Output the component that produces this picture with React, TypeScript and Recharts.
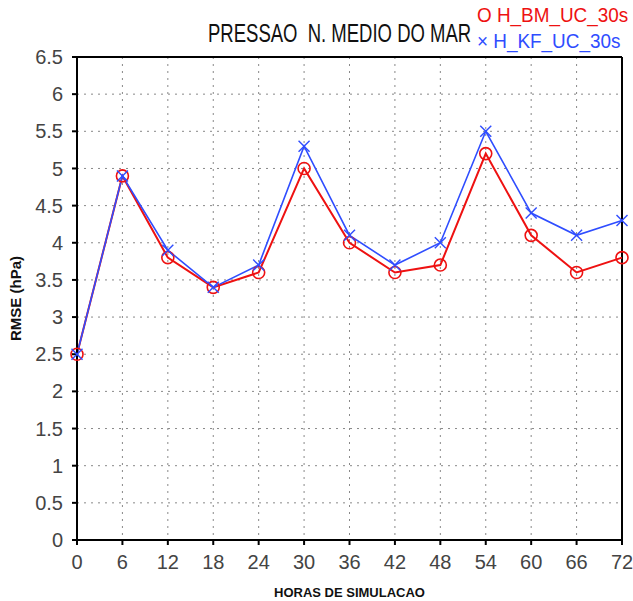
import { LineChart, Line, XAxis, YAxis, CartesianGrid, ReferenceLine, Label } from "recharts"

// horas de simulacao e RMSE de cada rodada
const HORAS = [0, 6, 12, 18, 24, 30, 36, 42, 48, 54, 60, 66, 72]
const BM_UC_30S = [2.5, 4.9, 3.8, 3.4, 3.6, 5.0, 4.0, 3.6, 3.7, 5.2, 4.1, 3.6, 3.8]
const KF_UC_30S = [2.5, 4.9, 3.9, 3.4, 3.7, 5.3, 4.1, 3.7, 4.0, 5.5, 4.4, 4.1, 4.3]
const Y_TICKS = [0, 0.5, 1, 1.5, 2, 2.5, 3, 3.5, 4, 4.5, 5, 5.5, 6, 6.5]
const SERIES_NAMES = ["H_BM_UC_30s", "H_KF_UC_30s"]
const TITLE = "PRESSAO  N. MEDIO DO MAR"

const RED = "#ee1111"
const BLUE = "#2f4dff"
const FONT = "'Liberation Sans', Arial, sans-serif"

const data = HORAS.map((h, i) => ({ h, bm: BM_UC_30S[i], kf: KF_UC_30S[i] }))

const CircleDot = (props: any) => {
  const { cx, cy } = props
  if (cx == null || cy == null) return null
  return <circle cx={cx} cy={cy} r={6} fill="none" stroke={RED} strokeWidth={1.6} />
}

const CrossDot = (props: any) => {
  const { cx, cy } = props
  if (cx == null || cy == null) return null
  const s = 5.5
  return (
    <g stroke={BLUE} strokeWidth={1.4}>
      <line x1={cx - s} y1={cy - s} x2={cx + s} y2={cy + s} />
      <line x1={cx - s} y1={cy + s} x2={cx + s} y2={cy - s} />
    </g>
  )
}

const tickStyle = { fill: "#444", fontSize: 20, fontFamily: FONT }

export default function App() {
  return (
    <div style={{ position: "absolute", left: 0, top: 0, width: 633, height: 601, background: "#fff" }}>
      {/* titulo */}
      <div style={{ position: "absolute", left: 208, top: 18, fontFamily: FONT, fontSize: 25, color: "#111", whiteSpace: "pre", lineHeight: "30px", transform: "scaleX(0.74)", transformOrigin: "left top" }}>
        {TITLE}
      </div>
      {/* legenda */}
      <div style={{ position: "absolute", left: 477, top: 2, fontFamily: FONT, fontSize: 21, lineHeight: "26px", whiteSpace: "pre", transform: "scaleX(0.9)", transformOrigin: "left top" }}>
        <div style={{ color: RED }}>{"O " + SERIES_NAMES[0]}</div>
        <div style={{ color: BLUE }}>{"× " + SERIES_NAMES[1]}</div>
      </div>
      <LineChart width={633} height={601} data={data} margin={{ top: 57, right: 11, left: 0, bottom: 0 }}>
        <CartesianGrid stroke="#888" strokeDasharray="2 5" />
        <XAxis
          dataKey="h"
          type="number"
          domain={[0, 72]}
          ticks={HORAS}
          height={61}
          stroke="#000"
          strokeWidth={2}
          tickSize={5}
          tickMargin={10}
          tick={tickStyle}
        >
          <Label value="HORAS DE SIMULACAO" position="insideBottom" offset={4} style={{ fontFamily: FONT, fontSize: 13, fontWeight: 700, fill: "#111" }} />
        </XAxis>
        <YAxis
          type="number"
          domain={[0, 6.5]}
          ticks={Y_TICKS}
          width={77}
          stroke="#000"
          strokeWidth={2}
          tickSize={5}
          tickMargin={9}
          tick={tickStyle}
        >
          <Label value="RMSE (hPa)" angle={-90} position="insideLeft" offset={16} style={{ fontFamily: FONT, fontSize: 15, fontWeight: 700, fill: "#111", textAnchor: "middle" }} />
        </YAxis>
        <ReferenceLine y={6.5} stroke="#000" strokeWidth={2} />
        <ReferenceLine x={72} stroke="#000" strokeWidth={2} />
        <Line dataKey="bm" stroke={RED} strokeWidth={2} dot={<CircleDot />} isAnimationActive={false} />
        <Line dataKey="kf" stroke={BLUE} strokeWidth={1.6} dot={<CrossDot />} isAnimationActive={false} />
      </LineChart>
    </div>
  )
}
